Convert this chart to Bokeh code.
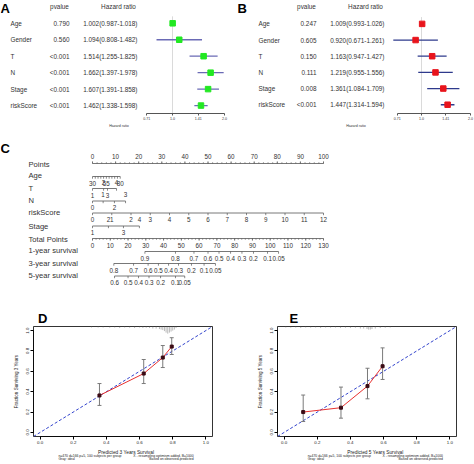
import numpy as np
from bokeh.plotting import figure
from bokeh.layouts import column, row
from bokeh.models import Range1d, FixedTicker, PrintfTickFormatter
from bokeh.core.properties import value
from bokeh.embed import file_html
from bokeh.resources import INLINE

FONT = "Liberation Sans"
TXT = "#333333"

# ---------------- data: forest plots (A univariate, B multivariate) ----------------
variables = ["Age", "Gender", "T", "N", "Stage", "riskScore"]
uni_pvalue = ["0.790", "0.560", "<0.001", "<0.001", "<0.001", "<0.001"]
uni_hr = [1.002, 1.094, 1.514, 1.662, 1.607, 1.462]
uni_low = [0.987, 0.808, 1.255, 1.397, 1.391, 1.338]
uni_high = [1.018, 1.482, 1.825, 1.978, 1.858, 1.598]
multi_pvalue = ["0.247", "0.605", "0.150", "0.111", "0.008", "<0.001"]
multi_hr = [1.009, 0.920, 1.163, 1.219, 1.361, 1.447]
multi_low = [0.993, 0.671, 0.947, 0.955, 1.084, 1.314]
multi_high = [1.026, 1.261, 1.427, 1.556, 1.709, 1.594]
hr_tick_values = [0.71, 1.0, 1.41, 2.0]
hr_tick_labels = ["0.71", "1.0", "1.41", "2.0"]

# ---------------- data: nomogram (C) ----------------
nomo_names = ["Points", "Age", "T", "N", "riskScore", "Stage", "Total Points",
              "1-year survival", "3-year survival", "5-year survival"]
points_labels = [0, 10, 20, 30, 40, 50, 60, 70, 80, 90, 100]
age_labels = [30, 55, 80]
age_ticks = [30, 35, 40, 45, 50, 55, 60, 65, 70, 75, 80]
age_max_points = 12.0
t_levels = ["1", "2", "3", "4"]
t_points = [0.0, 4.8, 6.5, 10.4]
n_levels = ["0", "1", "2", "3"]
n_points = [0.0, 4.6, 9.5, 14.3]
risk_levels = [0, 1, 2, 3, 4, 5, 6, 7, 8, 9, 10, 11, 12]
risk_max_points = 100.0
stage_levels = ["1", "2", "3", "4"]
stage_points = [0.0, 6.9, 13.4, 20.3]
total_labels = [0, 10, 20, 30, 40, 50, 60, 70, 80, 90, 100, 110, 120, 130]
surv1_labels = ["0.9", "0.8", "0.7", "0.6", "0.5", "0.4", "0.3", "0.2", "0.1", "0.05"]
surv1_total = [29.5, 46.7, 57.1, 65.0, 71.2, 77.7, 84.1, 90.6, 98.5, 104.7]
surv3_labels = ["0.8", "0.7", "0.6", "0.5", "0.4", "0.3", "0.2", "0.1", "0.05"]
surv3_total = [12.0, 23.1, 31.3, 37.1, 42.8, 48.4, 55.7, 62.8, 69.2]
surv5_labels = ["0.6", "0.5", "0.4", "0.3", "0.2", "0.1", "0.05"]
surv5_total = [12.4, 20.0, 25.9, 31.8, 38.3, 46.7, 51.9]

# ---------------- data: calibration (D 3-year, E 5-year) ----------------
cal_ticks = [0.0, 0.2, 0.4, 0.6, 0.8, 1.0]
cal3_pred = [0.358, 0.625, 0.740, 0.794]
cal3_obs = [0.363, 0.578, 0.735, 0.843]
cal3_low = [0.265, 0.480, 0.637, 0.765]
cal3_high = [0.480, 0.716, 0.853, 0.930]
cal3_rug_x = [0.31, 0.35, 0.38, 0.42, 0.45, 0.48, 0.51, 0.54, 0.57, 0.60, 0.62, 0.64, 0.66,
              0.68, 0.70, 0.72, 0.73, 0.74, 0.75, 0.76, 0.77, 0.78, 0.79, 0.80, 0.81, 0.82]
cal3_rug_h = [0.01, 0.01, 0.01, 0.012, 0.01, 0.015, 0.01, 0.012, 0.015, 0.01, 0.015, 0.012, 0.015,
              0.02, 0.02, 0.025, 0.03, 0.035, 0.045, 0.06, 0.07, 0.06, 0.05, 0.04, 0.03, 0.015]
cal5_pred = [0.115, 0.343, 0.503, 0.594]
cal5_obs = [0.200, 0.243, 0.455, 0.650]
cal5_low = [0.107, 0.140, 0.330, 0.520]
cal5_high = [0.367, 0.445, 0.630, 0.830]
cal5_rug_x = [0.01, 0.04, 0.07, 0.10, 0.13, 0.16, 0.19, 0.22, 0.25, 0.28, 0.31, 0.34, 0.37,
              0.40, 0.43, 0.46, 0.48, 0.50, 0.51, 0.52, 0.53, 0.55, 0.58, 0.61, 0.64]
cal5_rug_h = [0.01, 0.012, 0.01, 0.015, 0.01, 0.012, 0.01, 0.015, 0.01, 0.012, 0.01, 0.015, 0.012,
              0.015, 0.012, 0.02, 0.02, 0.025, 0.03, 0.03, 0.025, 0.02, 0.015, 0.012, 0.01]
cal_note_left = ["n=470 d=166 p=5, 100 subjects per group", "Gray: ideal"]
cal_note_right = ["X - resampling optimism added, B=1000", "Based on observed-predicted"]


def clean(p):
    p.grid.visible = False
    p.background_fill_color = "white"
    p.border_fill_color = "white"


def strip(width, height):
    """A plain text strip whose data units are pixels (y grows downwards)."""
    s = figure(width=width, height=height, output_backend="svg", toolbar_location=None, tools="",
               x_range=Range1d(0, width), y_range=Range1d(height, 0),
               x_axis_location=None, y_axis_location=None, min_border=0)
    clean(s)
    s.outline_line_color = None
    return s


# ---------------- forest plot panels ----------------
def forest(letter, pvals, hr, low, high, sq_col, ln_col, one_px, ppu, axis_y, row_y0,
           name_px, pval_px, hr_px, hdr_p_px, hdr_hr_px):
    W, H = 237, 130

    def dx(px):
        return (px - one_px) / ppu

    p = figure(width=W, height=H, output_backend="svg", toolbar_location=None, tools="",
               x_range=Range1d(dx(0), dx(W)), y_range=Range1d(axis_y, 0),
               y_axis_location=None, min_border_left=0, min_border_right=0,
               min_border_top=0, min_border_bottom=H - axis_y)
    clean(p)
    p.outline_line_color = None
    ys = [row_y0 + i * 16.6 for i in range(len(variables))]
    lx, lo, hi = np.log2(hr), np.log2(low), np.log2(high)

    p.segment(x0=[0.0], y0=[ys[0] - 7], x1=[0.0], y1=[axis_y], line_color="#d0d0d0", line_width=0.8)
    p.segment(x0=lo, y0=ys, x1=hi, y1=ys, line_color=ln_col, line_width=1.3)
    p.scatter(x=lx, y=ys, marker="square", size=5.5, fill_color=sq_col, line_color=sq_col)

    hr_txt = ["%.3f(%.3f-%.3f)" % (a, b, c) for a, b, c in zip(hr, low, high)]
    common = dict(text_font=value(FONT), text_font_size="6.4px", text_baseline="middle", text_color=TXT)
    p.text(x=[dx(name_px)] * len(ys), y=ys, text=variables, text_align="left", **common)
    p.text(x=[dx(pval_px)] * len(ys), y=ys, text=pvals, text_align="right", **common)
    p.text(x=[dx(hr_px)] * len(ys), y=ys, text=hr_txt, text_align="right", **common)
    p.text(x=[dx(hdr_p_px), dx(hdr_hr_px)], y=[6.5, 6.5], text=["pvalue", "Hazard ratio"],
           text_align="center", **common)
    p.text(x=[dx(0)], y=[0], text=[letter], text_font=value(FONT), text_font_size="13px",
           text_font_style="bold", text_baseline="top", text_align="left", text_color="black")

    tick_pos = [float(v) for v in np.log2(hr_tick_values)]
    ax = p.xaxis[0]
    ax.ticker = FixedTicker(ticks=tick_pos)
    ax.major_label_overrides = {t: s for t, s in zip(tick_pos, hr_tick_labels)}
    ax.bounds = (tick_pos[0], tick_pos[-1])
    ax.axis_line_color = "#555555"
    ax.major_tick_line_color = "#555555"
    ax.major_tick_out = 2
    ax.major_tick_in = 0
    ax.minor_tick_line_color = None
    ax.major_label_standoff = 1
    ax.major_label_text_font = FONT
    ax.major_label_text_font_size = "3.6px"
    ax.major_label_text_color = TXT
    ax.axis_label = "Hazard ratio"
    ax.axis_label_text_font = FONT
    ax.axis_label_text_font_size = "3.6px"
    ax.axis_label_text_font_style = "normal"
    ax.axis_label_text_color = TXT
    ax.axis_label_standoff = 1
    return p


pA = forest("A", uni_pvalue, uni_hr, uni_low, uni_high, "#22e822", "#6a6ab5",
            one_px=172, ppu=52, axis_y=114, row_y0=23,
            name_px=10, pval_px=69, hr_px=137, hdr_p_px=59, hdr_hr_px=118)
pB = forest("B", multi_pvalue, multi_hr, multi_low, multi_high, "#e8141c", "#2e3a8c",
            one_px=184, ppu=49, axis_y=116, row_y0=24,
            name_px=21, pval_px=79, hr_px=147, hdr_p_px=69, hdr_hr_px=128)

# ---------------- nomogram panel ----------------
C_TOP, C_H = 130, 175
PX0, PPP = 92.0, 2.31          # pixel of 0 points, pixels per point
pC = figure(width=474, height=C_H, output_backend="svg", toolbar_location=None, tools="",
            x_range=Range1d(-PX0 / PPP, (474 - PX0) / PPP), y_range=Range1d(C_TOP + C_H, C_TOP),
            x_axis_location=None, y_axis_location=None, min_border=0)
clean(pC)
pC.outline_line_color = None

LINE = "#555555"
row_y = [163, 176, 188, 200.5, 212.5, 225.5, 238, 251, 263, 275.5]
name_y = [164, 174.5, 188, 200, 212, 225.5, 238.5, 250, 262.5, 275]
name_x = (28 - PX0) / PPP

pC.text(x=[name_x] * len(nomo_names), y=name_y, text=nomo_names, text_font=value(FONT),
        text_font_size="7.6px", text_baseline="middle", text_align="left", text_color=TXT)
pC.text(x=[-PX0 / PPP], y=[148], text=["C"], text_font=value(FONT), text_font_size="13px",
        text_font_style="bold", text_baseline="middle", text_align="left", text_color="black")


def nomo_axis(y, lab_pts, labels, sides, tick_pts=None, tick_dir=1, tick_len=2.2,
              minor_pts=None, lab_off=6.5):
    allx = list(lab_pts) + (list(tick_pts) if tick_pts is not None else [])
    pC.segment(x0=[min(allx)], y0=[y], x1=[max(allx)], y1=[y], line_color=LINE, line_width=0.8)
    tp = list(tick_pts) if tick_pts is not None else list(lab_pts)
    pC.segment(x0=tp, y0=[y] * len(tp), x1=tp, y1=[y + tick_dir * tick_len] * len(tp),
               line_color=LINE, line_width=0.7)
    if minor_pts is not None:
        mp = list(minor_pts)
        pC.segment(x0=mp, y0=[y] * len(mp), x1=mp, y1=[y + tick_dir * 1.3] * len(mp),
                   line_color=LINE, line_width=0.6)
    ly = [y + lab_off if s == "below" else y - lab_off for s in sides]
    pC.text(x=list(lab_pts), y=ly, text=[str(l) for l in labels], text_font=value(FONT),
            text_font_size="6.3px", text_baseline="middle", text_align="center", text_color=TXT)


alt = ["below", "above", "below", "above"]
nomo_axis(row_y[0], points_labels, points_labels, ["above"] * len(points_labels),
          tick_dir=-1, minor_pts=range(0, 101, 2), lab_off=7)
age_scale = age_max_points / (age_ticks[-1] - age_ticks[0])
nomo_axis(row_y[1], [(a - age_ticks[0]) * age_scale for a in age_labels], age_labels,
          ["below"] * 3, tick_pts=[(a - age_ticks[0]) * age_scale for a in age_ticks])
nomo_axis(row_y[2], t_points, t_levels, alt)
nomo_axis(row_y[3], n_points, n_levels, alt)
risk_scale = risk_max_points / risk_levels[-1]
nomo_axis(row_y[4], [r * risk_scale for r in risk_levels], risk_levels, ["below"] * len(risk_levels))
nomo_axis(row_y[5], stage_points, stage_levels, alt)
tot_scale = 100.0 / total_labels[-1]
nomo_axis(row_y[6], [t * tot_scale for t in total_labels], total_labels, ["below"] * len(total_labels),
          minor_pts=[t * tot_scale for t in range(0, 131, 2)])
nomo_axis(row_y[7], [t * tot_scale for t in surv1_total], surv1_labels, ["below"] * len(surv1_labels))
nomo_axis(row_y[8], [t * tot_scale for t in surv3_total], surv3_labels, ["below"] * len(surv3_labels))
nomo_axis(row_y[9], [t * tot_scale for t in surv5_total], surv5_labels, ["below"] * len(surv5_labels))


# ---------------- calibration panels ----------------
def calib(letter, letter_px, pred, obs, low, high, rug_x, rug_h, years, left_b, right_b):
    W, TOP_H, H, BOT_H = 237, 21, 122, 16
    lo_lim, hi_lim = -0.04, 1.04
    p = figure(width=W, height=H, output_backend="svg", toolbar_location=None, tools="",
               x_range=Range1d(lo_lim, hi_lim), y_range=Range1d(lo_lim, hi_lim),
               min_border_left=left_b, min_border_right=right_b, min_border_top=0,
               min_border_bottom=12)
    clean(p)
    p.outline_line_color = "black"
    p.outline_line_width = 0.8
    for ax in (p.xaxis[0], p.yaxis[0]):
        ax.ticker = FixedTicker(ticks=cal_ticks)
        ax.formatter = PrintfTickFormatter(format="%.1f")
        ax.bounds = (cal_ticks[0], cal_ticks[-1])
        ax.axis_line_color = "black"
        ax.axis_line_width = 0.8
        ax.major_tick_line_color = "black"
        ax.major_tick_out = 3
        ax.major_tick_in = 0
        ax.minor_tick_line_color = None
        ax.major_label_text_font = FONT
        ax.major_label_text_font_size = "4.4px"
        ax.major_label_text_color = "#222222"
        ax.major_label_standoff = 1
        ax.axis_label_text_font = FONT
        ax.axis_label_text_font_style = "normal"
        ax.axis_label_text_color = "#222222"
    p.yaxis[0].major_label_orientation = "vertical"
    p.yaxis[0].axis_label = "Fraction Surviving %d Years" % years
    p.yaxis[0].axis_label_text_font_size = "4.6px"
    p.yaxis[0].axis_label_standoff = 5

    p.segment(x0=rug_x, y0=[hi_lim] * len(rug_x), x1=rug_x,
              y1=[hi_lim - h for h in rug_h], line_color="#8a8a8a", line_width=0.6)
    p.line(x=[lo_lim, hi_lim], y=[lo_lim, hi_lim], line_color="#3344cc", line_width=1,
           line_dash="3 2")
    cap = 0.012
    p.segment(x0=pred, y0=low, x1=pred, y1=high, line_color="#7a7a7a", line_width=1)
    p.segment(x0=[x - cap for x in pred], y0=low, x1=[x + cap for x in pred], y1=low,
              line_color="#7a7a7a", line_width=1)
    p.segment(x0=[x - cap for x in pred], y0=high, x1=[x + cap for x in pred], y1=high,
              line_color="#7a7a7a", line_width=1)
    p.line(x=pred, y=obs, line_color="#e8312f", line_width=1)
    p.scatter(x=pred, y=obs, marker="square", size=3, fill_color="#3a0a14", line_color="#3a0a14")

    top = strip(W, TOP_H)
    top.text(x=[letter_px], y=[13], text=[letter], text_font=value(FONT), text_font_size="13px",
             text_font_style="bold", text_baseline="middle", text_align="left", text_color="black")

    bot = strip(W, BOT_H)
    bot.text(x=[(left_b + W - right_b) / 2], y=[4], text=["Predicted %d Years Survival" % years],
             text_font=value(FONT), text_font_size="4.8px", text_color="#222222",
             text_baseline="middle", text_align="center")
    note = dict(text_font=value(FONT), text_font_size="3.4px", text_color="#222222",
                text_baseline="middle")
    bot.text(x=[left_b] * 2, y=[7.5, 10.7], text=cal_note_left, text_align="left", **note)
    bot.text(x=[W - right_b] * 2, y=[7.5, 10.7], text=cal_note_right, text_align="right", **note)
    return column(top, p, bot)


pD = calib("D", 6, cal3_pred, cal3_obs, cal3_low, cal3_high, cal3_rug_x, cal3_rug_h, 3, 33, 25)
pE = calib("E", 16, cal5_pred, cal5_obs, cal5_low, cal5_high, cal5_rug_x, cal5_rug_h, 5, 40, 18)

layout = column(row(pA, pB), pC, row(pD, pE))
open("out.html", "w").write(file_html(layout, INLINE))
